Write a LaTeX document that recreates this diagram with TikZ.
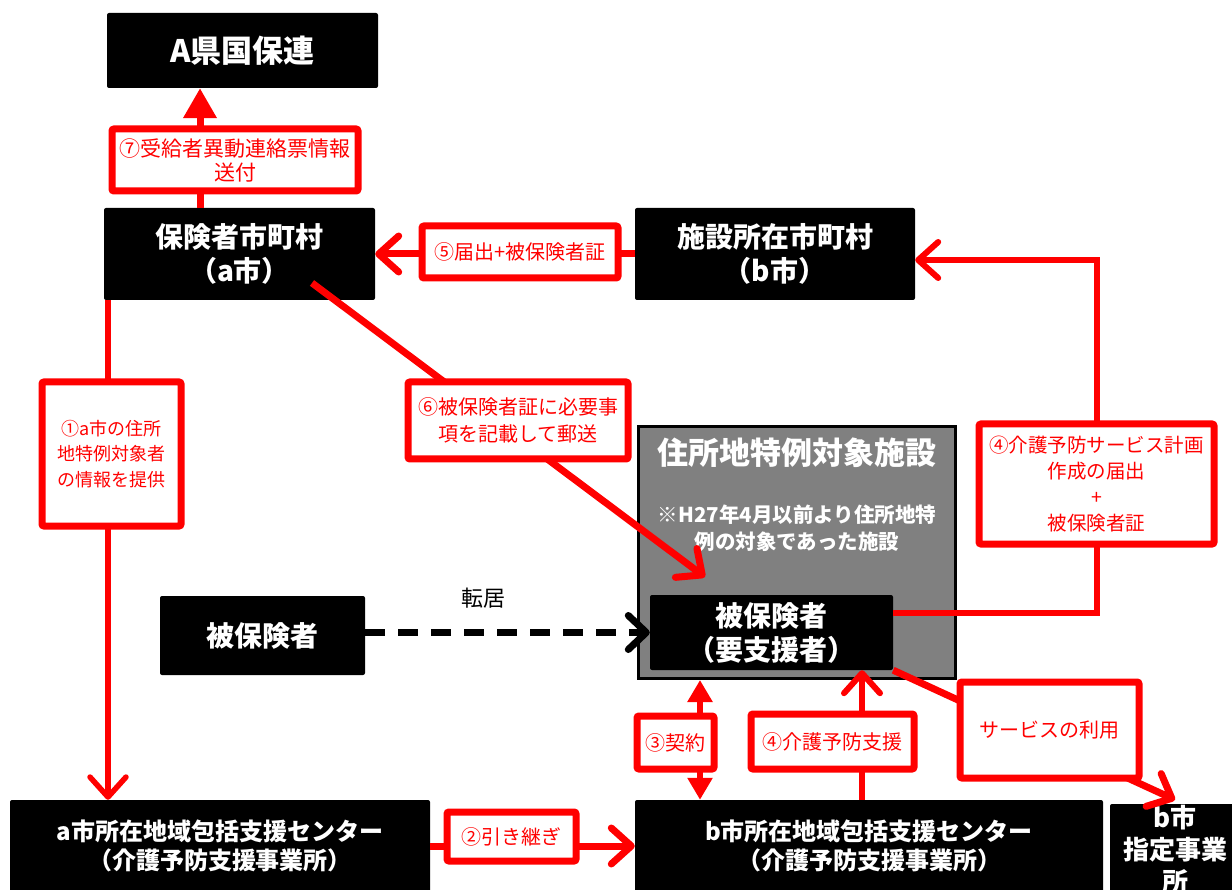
\documentclass[tikz,border=0pt]{standalone}
\usepackage{fontspec}
\setmainfont{Noto Sans CJK JP}
\usetikzlibrary{arrows.meta,calc}

\tikzset{
  box/.style={fill=black,text=white,font=\bfseries\fontsize{28}{34}\selectfont,align=center,rounded corners=2pt,inner sep=0pt},
  tag/.style={draw=red,line width=7pt,fill=white,text=red,font=\fontsize{20}{26}\selectfont,align=center,rounded corners=2pt,inner sep=0pt},
  flow/.style={draw=red,line width=7pt},
  chev/.tip={Straight Barb[length=20pt,width=36pt,round]},
}

\begin{document}
\begin{tikzpicture}[x=1pt,y=-1pt]
	\useasboundingbox (0,0) rectangle (1232,890);
	\node[box,minimum width=271pt,minimum height=75pt,font=\bfseries\fontsize{31}{36}\selectfont] (kokuho) at (242.5,50.5) {A県国保連};
	\node[box,minimum width=271pt,minimum height=92pt] (ins) at (239.5,254) {保険者市町村\\（a市）};
	\node[box,minimum width=280pt,minimum height=92pt] (fac) at (775,254) {施設所在市町村\\（b市）};
	\node[box,minimum width=205pt,minimum height=79pt] (mover) at (262.5,635.5) {被保険者};
	\node[draw=black,line width=3pt,fill=gray,minimum width=317pt,minimum height=252pt] (site) at (797,552.5) {};
	\node[text=white,font=\bfseries\fontsize{31}{36}\selectfont] (sitetitle) at (797,453) {住所地特例対象施設};
	\node[text=white,align=center,font=\bfseries\fontsize{20.5}{27}\selectfont] (sitenote) at (797,528) {※H27年4月以前より住所地特\\例の対象であった施設};
	\node[box,minimum width=243pt,minimum height=75pt] (user) at (771.5,632.5) {被保険者\\（要支援者）};
	\node[box,minimum width=420pt,minimum height=92pt,font=\bfseries\fontsize{24}{29}\selectfont] (centA) at (220,846) {a市所在地域包括支援センター\\（介護予防支援事業所）};
	\node[box,minimum width=468pt,minimum height=92pt,font=\bfseries\fontsize{24}{29}\selectfont] (centB) at (869,846) {b市所在地域包括支援センター\\（介護予防支援事業所）};
	\node[box,minimum width=130pt,minimum height=92pt,font=\bfseries\fontsize{26}{32}\selectfont] (prov) at (1175,850) {b市\\指定事業\\所};

	\draw[flow,-{Triangle[length=30pt,width=32pt]}] ([xshift=-39.5pt]ins.north) -- ([xshift=-42.5pt]kokuho.south);
	\draw[flow,-chev] (fac.west) -- (ins.east);
	\draw[flow,line width=5.5pt,-chev] ([xshift=-131.5pt]ins.south) -- ([xshift=-112pt]centA.north);
	\coordinate (mailfrom) at (312,283);
	\coordinate (mailto) at (705,577);
	\draw[flow,-chev] (mailfrom) -- (mailto);
	\coordinate (bend) at (1097,260);
	\draw[flow,line width=6pt,-chev] ([yshift=20pt]user.east) -| (bend) -- (bend -| fac.east);
	\draw[line width=7pt,dash pattern=on 20pt off 13pt,-{Straight Barb[length=18pt,width=34pt,round]}] (mover.east |- user.west) -- (user.west);
	\draw[flow,-chev] (centA.east) -- (centB.west);
	\draw[flow,line width=6pt,{Triangle[length=22pt,width=24pt]}-{Triangle[length=22pt,width=24pt]}] ([xshift=-169pt]centB.north) -- ([xshift=-97pt]site.south);
	\draw[flow,line width=6pt,-chev] ([xshift=-7pt]centB.north) -- ([xshift=90.5pt]user.south);
	\draw[flow,-chev] (user.south east) -- ([yshift=4pt]prov.north);

	\node[tag,minimum width=246pt,minimum height=62pt,font=\fontsize{21}{24}\selectfont] (t7) at (235,160) {⑦受給者異動連絡票情報\\送付};
	\node[tag,minimum width=196pt,minimum height=52pt] (t5) at (520,252) {⑤届出+被保険者証};
	\node[tag,minimum width=139pt,minimum height=144pt,font=\fontsize{18}{25.5}\selectfont] (t1) at (111.5,454) {①a市の住所\\地特例対象者\\の情報を提供};
	\node[tag,minimum width=220pt,minimum height=77pt,font=\fontsize{20}{27}\selectfont] (t6) at (518,420.5) {⑥被保険者証に必要事\\項を記載して郵送};
	\node[tag,minimum width=235pt,minimum height=120pt,font=\fontsize{19.5}{26}\selectfont] (t4a) at (1096.5,484) {④介護予防サービス計画\\作成の届出\\+\\被保険者証};
	\node[tag,minimum width=77pt,minimum height=53pt] (t3) at (675.5,742.5) {③契約};
	\node[tag,minimum width=163pt,minimum height=55pt] (t4b) at (832.5,741.5) {④介護予防支援};
	\node[tag,minimum width=179pt,minimum height=96pt] (tsvc) at (1049.5,730) {サービスの利用};
	\node[tag,minimum width=129pt,minimum height=49pt] (t2) at (511.5,836.5) {②引き継ぎ};
	\node[font=\fontsize{22}{26}\selectfont] (move) at (483,598) {転居};
\end{tikzpicture}
\end{document}
